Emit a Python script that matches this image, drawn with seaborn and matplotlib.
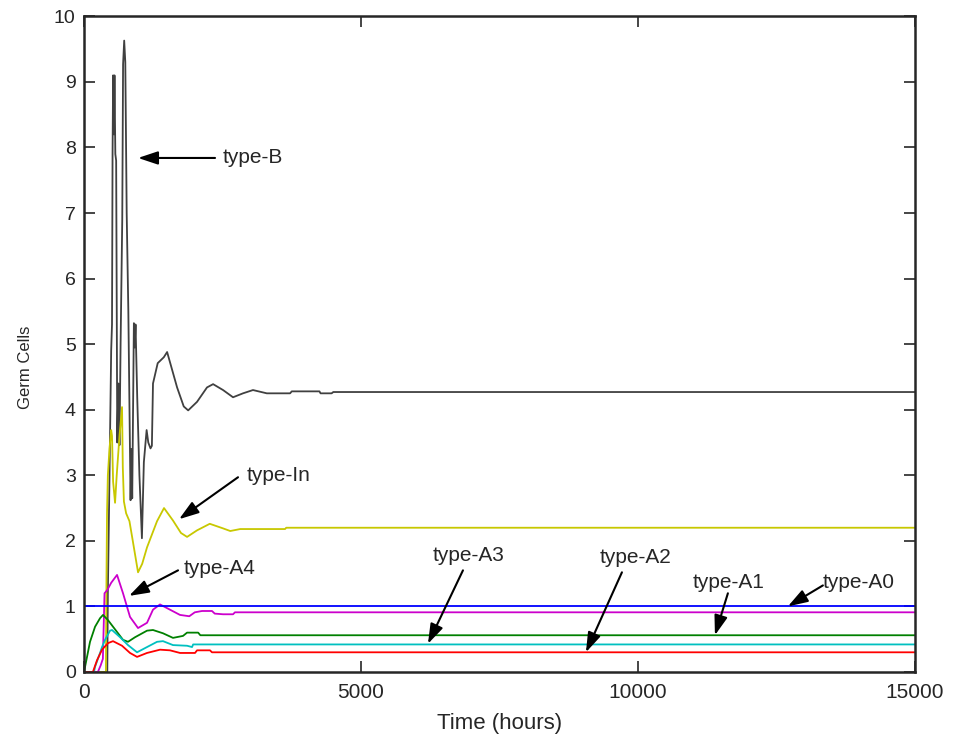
import numpy as np
import pandas as pd
import matplotlib
matplotlib.use('Agg')
import matplotlib.pyplot as plt
import seaborn as sns

# values (time in hours, germ cells)
b_time = [0, 420, 430, 460, 490, 505, 515, 525, 540, 550, 565, 580, 600, 620, 640, 660, 690, 705, 725, 745,
          770, 800, 840, 855, 870, 900, 915, 930, 960, 1000, 1045, 1080, 1130, 1160, 1200, 1225, 1245, 1330,
          1440, 1500, 1560, 1680, 1800, 1880, 2040, 2220, 2330, 2510, 2690, 2870, 3050, 3300, 3550, 3720,
          3750, 4250, 4270, 4470, 4500, 15000]
b_vals = [0, 0, 1.2, 3.0, 4.9, 5.3, 7.9, 9.1, 8.2, 9.1, 7.9, 7.8, 3.5, 4.4, 3.46, 5.0, 6.9, 9.27, 9.63, 9.3,
          7.0, 5.5, 2.62, 3.4, 2.65, 5.32, 4.95, 5.3, 4.2, 3.0, 2.04, 3.2, 3.69, 3.5, 3.41, 3.45, 4.4, 4.71,
          4.8, 4.88, 4.7, 4.34, 4.05, 3.99, 4.12, 4.34, 4.39, 4.30, 4.19, 4.25, 4.30, 4.25, 4.25, 4.25,
          4.28, 4.28, 4.25, 4.25, 4.27, 4.27]

in_time = [0, 395, 405, 415, 430, 460, 490, 505, 525, 560, 590, 640, 686, 700, 720, 760, 820, 880, 975, 1050,
           1137, 1318, 1444, 1606, 1750, 1860, 2040, 2270, 2510, 2640, 2820, 3360, 3630, 3650, 15000]
in_vals = [0, 0, 1.4, 2.42, 3.0, 3.41, 3.69, 3.6, 2.9, 2.58, 3.0, 3.6, 4.04, 3.12, 2.6, 2.42, 2.3, 2.0, 1.52, 1.65,
           1.9, 2.3, 2.5, 2.31, 2.12, 2.06, 2.16, 2.26, 2.19, 2.15, 2.18, 2.18, 2.18, 2.20, 2.20]

a4_time = [0, 250, 300, 340, 370, 420, 490, 596, 704, 830, 975, 1137, 1245, 1372, 1552, 1733, 1900, 2000,
           2130, 2310, 2360, 2510, 2690, 2725, 15000]
a4_vals = [0, 0, 0.1, 0.2, 1.2, 1.25, 1.36, 1.48, 1.2, 0.84, 0.67, 0.75, 0.95, 1.03, 0.95, 0.87, 0.85, 0.91,
           0.93, 0.93, 0.89, 0.88, 0.88, 0.91, 0.91]

a3_time = [0, 54, 108, 199, 289, 343, 433, 596, 704, 794, 921, 1137, 1245, 1426, 1606, 1787, 1860, 2060, 2100, 15000]
a3_vals = [0, 0.23, 0.46, 0.69, 0.82, 0.87, 0.79, 0.61, 0.49, 0.46, 0.53, 0.63, 0.64, 0.59, 0.52, 0.55, 0.6, 0.6,
           0.56, 0.56]

a2_time = [0, 180, 199, 289, 325, 379, 469, 505, 650, 794, 957, 1137, 1318, 1426, 1606, 1860, 1950, 1970, 15000]
a2_vals = [0, 0, 0.08, 0.29, 0.38, 0.49, 0.63, 0.64, 0.53, 0.41, 0.30, 0.38, 0.46, 0.47, 0.41, 0.40, 0.38, 0.42, 0.42]

a1_time = [0, 160, 235, 325, 433, 523, 686, 830, 957, 1137, 1372, 1552, 1733, 2004, 2040, 2274, 2310, 15000]
a1_vals = [0, 0, 0.18, 0.34, 0.44, 0.47, 0.40, 0.29, 0.23, 0.29, 0.34, 0.33, 0.29, 0.29, 0.33, 0.33, 0.30, 0.30]

a0_time = [0, 15000]
a0_vals = [1.0, 1.0]

series = ['type-B', 'type-In', 'type-A4', 'type-A3', 'type-A2', 'type-A1', 'type-A0']
colors = ['#404040', '#c8c800', '#cc00cc', '#008000', '#00c0c0', '#ff0000', '#0000ff']

# label text position and arrow (tail -> tip), in data coords
labels = {
    'type-B':  ((2509, 7.84), (2365, 7.84), (975, 7.84)),
    'type-In': ((2937, 3.0), (2780, 2.97), (1715, 2.33)),
    'type-A4': ((1805, 1.585), (1697, 1.55), (812, 1.16)),
    'type-A3': ((6300, 1.78), (6841, 1.55), (6209, 0.43)),
    'type-A2': ((9314, 1.74), (9711, 1.52), (9061, 0.30)),
    'type-A1': ((10992, 1.36), (11624, 1.20), (11390, 0.56)),
    'type-A0': ((13339, 1.37), (13339, 1.32), (12707, 1.0)),
}

times = [b_time, in_time, a4_time, a3_time, a2_time, a1_time, a0_time]
vals = [b_vals, in_vals, a4_vals, a3_vals, a2_vals, a1_vals, a0_vals]
df = pd.concat([pd.DataFrame({'Time': t, 'Cells': v, 'Type': s}) for t, v, s in zip(times, vals, series)],
               ignore_index=True)

sns.set_style('ticks')
plt.rcParams['font.family'] = ['Liberation Sans', 'DejaVu Sans']

fig, ax = plt.subplots(figsize=(9.56, 7.43), dpi=100)
fig.subplots_adjust(left=0.0879, right=0.957, bottom=0.0956, top=0.978)

sns.lineplot(data=df, x='Time', y='Cells', hue='Type', palette=dict(zip(series, colors)),
             estimator=None, sort=False, linewidth=1.3, legend=False, ax=ax)

for name, (txt, tail, tip) in labels.items():
    ax.annotate('', xy=tip, xytext=tail,
                arrowprops=dict(arrowstyle='-|>,head_length=0.6,head_width=0.2', color='black',
                                lw=1.5, mutation_scale=20, shrinkA=0, shrinkB=0))
    ax.text(txt[0], txt[1], name, fontsize=15, ha='left', va='center')

ax.set_xlim(0, 15000)
ax.set_ylim(0, 10)
ax.set_xticks([0, 5000, 10000, 15000])
ax.set_yticks(range(0, 11))
ax.tick_params(direction='in', top=True, right=True, length=8, width=1.2, labelsize=14, pad=6)
ax.tick_params(axis='x', labelsize=15, pad=8)
for sp in ax.spines.values():
    sp.set_linewidth(1.8)

ax.set_xlabel('Time (hours)', fontsize=16, labelpad=8)
ax.set_ylabel('Germ Cells', fontsize=12)
ax.yaxis.set_label_coords(-0.061, 0.465)

plt.savefig('out.png', dpi=100)
